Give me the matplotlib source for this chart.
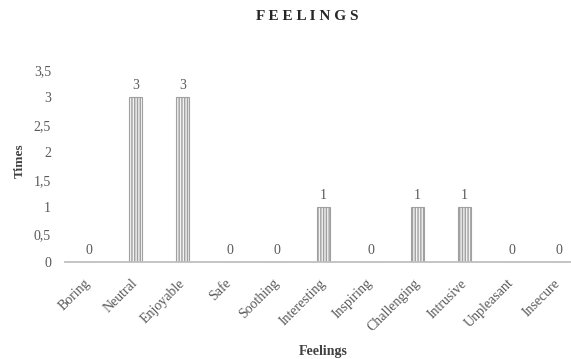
import matplotlib.pyplot as plt

plt.rcParams['font.family'] = ['Liberation Serif', 'DejaVu Serif']
plt.rcParams['hatch.linewidth'] = 1.0

# Feelings reported and how many times each came up
feelings = ['Boring', 'Neutral', 'Enjoyable', 'Safe', 'Soothing', 'Interesting',
            'Inspiring', 'Challenging', 'Intrusive', 'Unpleasant', 'Insecure']
times = [0, 3, 3, 0, 0, 1, 0, 1, 1, 0, 0]
yticks = [0, 0.5, 1, 1.5, 2, 2.5, 3, 3.5]
ytick_labels = ['0', '0,5', '1', '1,5', '2', '2,5', '3', '3,5']

grey = '#595959'

fig = plt.figure(figsize=(5.71, 3.59), dpi=100)
ax = fig.add_axes([65 / 571, 1 - 262 / 359, 517 / 571, 192 / 359])

x = range(len(feelings))
bars = ax.bar(x, times, width=0.29, color='#f2f2f2', edgecolor='#a0a0a0',
              linewidth=0.8, hatch='||||||')

# value labels above each bar
for bar, v in zip(bars, times):
    ax.text(bar.get_x() + bar.get_width() / 2, v + 0.09, str(v),
            ha='center', va='bottom', fontsize=10, color=grey)

ax.set_xlim(-0.5, len(feelings) - 0.5)
ax.set_ylim(0, 3.5)
ax.set_yticks(yticks)
ax.set_yticklabels(ytick_labels)
ax.set_xticks(list(x))
ax.set_xticklabels(feelings, rotation=45, ha='right', va='center',
                   rotation_mode='anchor')
ax.tick_params(axis='both', length=0, labelsize=10, labelcolor=grey)
ax.tick_params(axis='y', pad=10)
ax.tick_params(axis='x', pad=14)

for side in ['top', 'right', 'left']:
    ax.spines[side].set_visible(False)
ax.spines['bottom'].set_color('#bfbfbf')
ax.spines['bottom'].set_linewidth(1.3)

fig.text(20 / 571, 1 - 161 / 359, 'Times', rotation=90, ha='center', va='center',
         fontsize=9.5, fontweight='bold', color='#404040')
fig.text(323 / 571, 1 - 352 / 359, 'Feelings', ha='center', va='center',
         fontsize=10, fontweight='bold', color='#404040')
fig.text(307 / 571, 1 - 17 / 359, 'F E E L I N G S', ha='center', va='center',
         fontsize=11, fontweight='bold', color='#262626')

fig.savefig('out.png', dpi=100)
